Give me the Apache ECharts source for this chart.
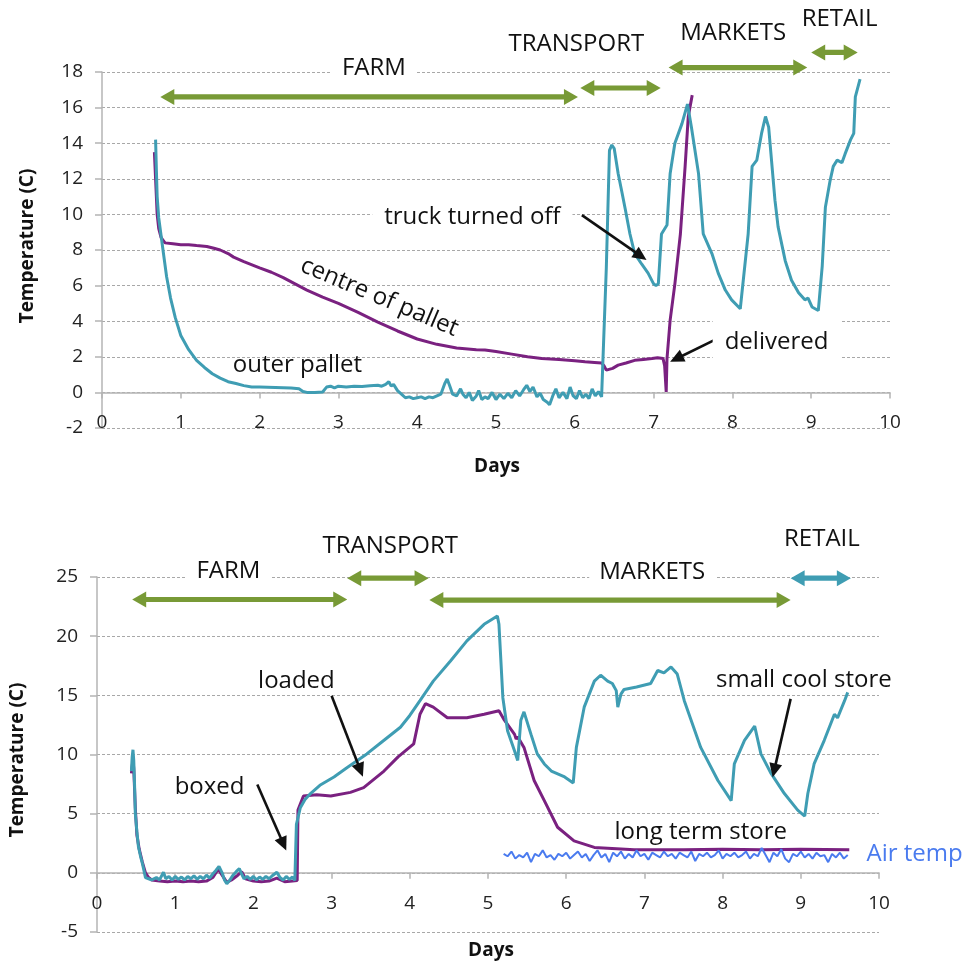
<!DOCTYPE html>
<html>
<head>
<meta charset="utf-8">
<script src="https://cdn.jsdelivr.net/npm/echarts@6/dist/echarts.min.js"></script>
<style>
  html, body { margin: 0; padding: 0; background: #ffffff; }
  #chart { width: 968px; height: 964px; }
</style>
</head>
<body>
<div id="chart"></div>
<script>
// ---- Upper panel: pallet temperatures [day, °C] ----
const outerPallet = [
  [0.68,14.2],[0.69,12.5],[0.70,11.0],[0.72,9.8],[0.75,8.8],[0.78,7.8],[0.82,6.5],[0.87,5.3],[0.93,4.2],
  [1.0,3.2],[1.1,2.4],[1.2,1.8],[1.3,1.4],[1.4,1.05],[1.5,0.8],[1.6,0.6],[1.7,0.5],[1.8,0.38],[1.9,0.3],
  [2.0,0.3],[2.2,0.28],[2.4,0.25],[2.5,0.2],[2.55,0.05],[2.6,0.0],[2.7,0.0],[2.8,0.02],[2.85,0.3],[2.9,0.35],
  [2.95,0.25],[3.0,0.35],[3.1,0.3],[3.2,0.35],[3.3,0.33],[3.4,0.38],[3.5,0.4],[3.55,0.35],[3.6,0.45],[3.64,0.6],
  [3.67,0.35],[3.7,0.45],[3.75,0.1],[3.8,-0.1],[3.85,-0.3],[3.9,-0.25],[3.95,-0.35],[4.0,-0.3],[4.05,-0.25],
  [4.1,-0.35],[4.15,-0.25],[4.2,-0.3],[4.25,-0.2],[4.3,-0.1],[4.35,0.5],[4.38,0.75],[4.41,0.4],[4.45,-0.1],
  [4.5,-0.2],[4.55,0.2],[4.58,-0.1],[4.62,-0.3],[4.66,0.0],[4.7,-0.45],[4.75,-0.2],[4.78,0.1],[4.82,-0.4],
  [4.86,-0.25],[4.9,-0.35],[4.95,0.0],[5.0,-0.4],[5.05,-0.1],[5.1,-0.35],[5.15,-0.05],[5.2,-0.3],[5.25,0.1],
  [5.3,-0.2],[5.35,0.15],[5.39,0.4],[5.43,0.05],[5.47,0.3],[5.52,-0.25],[5.56,-0.05],[5.6,-0.4],[5.65,-0.55],
  [5.68,-0.7],[5.72,-0.2],[5.76,0.2],[5.8,-0.3],[5.85,0.0],[5.9,-0.35],[5.94,0.3],[5.98,-0.2],[6.02,-0.35],
  [6.06,0.1],[6.1,-0.3],[6.14,-0.1],[6.18,-0.35],[6.22,0.2],[6.26,-0.2],[6.3,0.05],[6.34,-0.25],[6.36,-0.2],
  [6.40,7.0],[6.44,13.6],[6.47,13.9],[6.50,13.7],[6.55,12.3],[6.60,11.2],[6.64,10.3],[6.70,8.9],[6.76,7.8],
  [6.85,7.2],[6.93,6.7],[7.0,6.1],[7.03,6.0],[7.06,6.1],[7.10,8.9],[7.17,9.4],[7.21,12.3],[7.27,14.0],
  [7.36,15.1],[7.43,16.2],[7.48,14.9],[7.57,12.3],[7.63,8.9],[7.74,7.8],[7.82,6.7],[7.91,5.75],[7.99,5.2],
  [8.10,4.7],[8.12,4.8],[8.20,8.9],[8.25,12.7],[8.31,13.05],[8.37,14.55],[8.42,15.5],[8.46,14.9],[8.54,10.8],
  [8.58,9.3],[8.67,7.4],[8.75,6.3],[8.84,5.6],[8.92,5.2],[8.96,5.3],[9.01,4.8],[9.09,4.6],[9.14,7.1],
  [9.18,10.4],[9.24,11.9],[9.28,12.7],[9.33,13.05],[9.39,12.9],[9.43,13.4],[9.50,14.2],[9.54,14.55],
  [9.56,16.6],[9.62,17.6]
];
const centrePallet = [
  [0.665,13.5],[0.68,12.0],[0.70,10.0],[0.72,9.2],[0.75,8.7],[0.80,8.4],[0.9,8.35],[1.0,8.3],[1.1,8.3],
  [1.2,8.25],[1.33,8.2],[1.42,8.1],[1.5,8.0],[1.6,7.8],[1.67,7.6],[1.8,7.35],[2.0,7.0],[2.15,6.75],[2.3,6.45],
  [2.45,6.1],[2.6,5.75],[2.8,5.35],[3.0,5.0],[3.25,4.5],[3.5,3.95],[3.75,3.45],[4.0,3.0],[4.25,2.7],[4.5,2.5],
  [4.75,2.4],[4.86,2.38],[5.0,2.3],[5.2,2.15],[5.4,2.0],[5.58,1.9],[5.8,1.85],[6.0,1.78],[6.13,1.72],
  [6.25,1.68],[6.34,1.65],[6.37,1.5],[6.40,1.25],[6.48,1.35],[6.55,1.53],[6.65,1.65],[6.76,1.8],[6.87,1.85],
  [6.98,1.9],[7.05,1.95],[7.12,1.9],[7.14,1.5],[7.16,0.03],[7.17,1.9],[7.21,4.06],[7.27,6.1],[7.34,8.9],
  [7.40,12.7],[7.44,15.5],[7.49,16.7]
];

// ---- Lower panel: cool store vs long term store [day, °C] ----
const smallCoolStore = [
  [0.44,8.6],[0.45,9.8],[0.46,10.4],[0.47,9.5],[0.48,7.5],[0.49,5.0],[0.51,3.5],[0.53,2.2],[0.56,1.3],
  [0.58,0.8],[0.60,0.2],[0.62,-0.4],[0.66,-0.5],[0.70,-0.6],[0.72,-0.65],[0.76,-0.4],[0.80,-0.6],[0.85,0.05],
  [0.88,-0.5],[0.92,-0.3],[0.96,-0.6],[1.0,-0.3],[1.04,-0.55],[1.08,-0.35],[1.12,-0.6],[1.16,-0.3],[1.2,-0.5],
  [1.24,-0.25],[1.28,-0.55],[1.32,-0.3],[1.36,-0.5],[1.40,-0.2],[1.44,-0.45],[1.48,-0.1],[1.52,0.2],[1.56,0.55],
  [1.60,0.0],[1.63,-0.6],[1.66,-0.93],[1.70,-0.6],[1.74,-0.2],[1.78,0.1],[1.82,0.35],[1.85,-0.1],[1.88,-0.5],
  [1.92,-0.3],[1.96,-0.55],[2.0,-0.3],[2.04,-0.6],[2.08,-0.35],[2.12,-0.55],[2.16,-0.3],[2.2,-0.5],[2.25,-0.2],
  [2.30,0.05],[2.34,-0.4],[2.38,-0.6],[2.42,-0.3],[2.46,-0.55],[2.5,-0.35],[2.53,-0.65],[2.55,4.1],[2.60,5.5],
  [2.66,6.2],[2.73,6.7],[2.85,7.4],[3.03,8.1],[3.2,8.9],[3.45,10.05],[3.65,11.1],[3.88,12.3],[4.0,13.3],
  [4.13,14.55],[4.3,16.2],[4.52,17.9],[4.73,19.6],[4.95,21.0],[5.12,21.7],[5.14,21.0],[5.19,14.8],[5.25,12.0],
  [5.34,10.3],[5.38,9.5],[5.42,12.9],[5.46,13.6],[5.55,11.7],[5.63,10.05],[5.72,9.2],[5.81,8.6],[5.98,8.1],
  [6.09,7.6],[6.13,10.6],[6.23,14.0],[6.36,16.2],[6.44,16.7],[6.53,16.2],[6.59,16.0],[6.64,15.4],[6.66,14.0],
  [6.70,15.1],[6.74,15.5],[6.9,15.7],[7.08,16.0],[7.17,17.1],[7.25,16.9],[7.34,17.4],[7.42,16.8],[7.51,14.55],
  [7.72,10.6],[7.94,7.8],[8.11,6.1],[8.15,9.2],[8.28,11.2],[8.41,12.4],[8.49,10.05],[8.62,8.4],[8.79,6.7],
  [8.96,5.3],[9.05,4.8],[9.09,6.7],[9.17,9.2],[9.30,11.2],[9.43,13.4],[9.47,13.1],[9.56,14.55],[9.60,15.25]
];
const longTermStore = [
  [0.44,8.4],[0.46,9.6],[0.47,8.8],[0.49,5.5],[0.51,3.2],[0.54,2.0],[0.58,0.9],[0.62,0.0],[0.66,-0.4],
  [0.70,-0.6],[0.8,-0.7],[0.9,-0.75],[1.0,-0.7],[1.1,-0.75],[1.2,-0.7],[1.3,-0.75],[1.4,-0.7],[1.48,-0.4],
  [1.55,0.3],[1.6,-0.2],[1.66,-0.8],[1.72,-0.6],[1.8,-0.2],[1.85,0.1],[1.9,-0.5],[2.0,-0.7],[2.1,-0.75],
  [2.2,-0.7],[2.3,-0.45],[2.4,-0.75],[2.5,-0.7],[2.56,-0.65],[2.57,5.3],[2.64,6.5],[2.81,6.6],[2.99,6.5],
  [3.24,6.8],[3.41,7.2],[3.67,8.6],[3.85,9.8],[4.05,10.9],[4.13,13.4],[4.2,14.3],[4.30,14.0],[4.48,13.1],
  [4.73,13.1],[4.95,13.4],[5.14,13.7],[5.21,12.9],[5.34,11.7],[5.36,11.3],[5.38,11.5],[5.46,10.6],[5.59,7.8],
  [5.72,6.1],[5.89,3.85],[6.10,2.7],[6.36,2.15],[6.87,1.95],[7.5,1.95],[8.0,2.0],[8.5,1.95],[9.0,2.0],[9.62,1.95]
];
const airTemp = [
  [5.20,1.6],[5.25,1.4],[5.30,1.8],[5.35,1.2],[5.40,1.5],[5.45,1.3],[5.50,1.7],[5.55,0.9],[5.60,1.6],
  [5.65,1.4],[5.70,1.9],[5.75,1.3],[5.80,1.5],[5.85,1.1],[5.90,1.6],[5.95,1.4],[6.00,1.7],[6.05,1.2],
  [6.10,1.5],[6.15,1.8],[6.20,1.3],[6.25,1.6],[6.30,1.0],[6.35,1.5],[6.40,1.9],[6.45,1.3],[6.50,1.6],
  [6.55,0.9],[6.60,1.7],[6.65,1.4],[6.70,1.8],[6.75,1.2],[6.80,1.6],[6.85,1.3],[6.90,1.9],[6.95,1.4],
  [7.00,1.6],[7.05,1.1],[7.10,1.7],[7.15,1.5],[7.20,1.3],[7.25,1.8],[7.30,1.4],[7.35,1.6],[7.40,1.2],
  [7.45,1.7],[7.50,1.5],[7.55,1.3],[7.60,1.8],[7.65,1.0],[7.70,1.6],[7.75,1.4],[7.80,1.7],[7.85,1.3],
  [7.90,1.5],[7.95,1.9],[8.00,1.2],[8.05,1.6],[8.10,1.4],[8.15,1.7],[8.20,1.3],[8.25,1.5],[8.30,1.8],
  [8.35,1.2],[8.40,1.6],[8.45,1.4],[8.50,2.1],[8.55,1.5],[8.60,0.9],[8.65,1.7],[8.70,1.4],[8.75,2.0],
  [8.80,1.2],[8.85,0.9],[8.90,1.6],[8.95,1.4],[9.00,1.8],[9.05,1.3],[9.10,1.6],[9.15,1.2],[9.20,1.7],
  [9.25,1.4],[9.30,1.5],[9.35,0.9],[9.40,1.6],[9.45,1.3],[9.50,1.7],[9.55,1.2],[9.60,1.5]
];

// ---- Axis ranges ----
const dayAxis = { min: 0, max: 10, step: 1 };
const topTempAxis = { min: -2, max: 18, step: 2 };
const bottomTempAxis = { min: -5, max: 25, step: 5 };

// ---- Supply-chain stages (double arrows), in day / °C units ----
const topStages = [
  { name: 'FARM',      from: 0.74, to: 6.04, at: 16.6,  textX: 3.45, textY: 18.2, tone: 'green', boxed: true },
  { name: 'TRANSPORT', from: 6.07, to: 7.09, at: 17.1,  textX: 6.02, textY: 19.55, tone: 'green' },
  { name: 'MARKETS',   from: 7.19, to: 8.95, at: 18.25, textX: 8.01, textY: 20.2, tone: 'green' },
  { name: 'RETAIL',    from: 9.00, to: 9.59, at: 19.1,  textX: 9.36, textY: 20.95, tone: 'green' }
];
const bottomStages = [
  { name: 'FARM',      from: 0.45, to: 3.20, at: 23.1,  textX: 1.68, textY: 25.5, tone: 'green', boxed: true },
  { name: 'TRANSPORT', from: 3.20, to: 4.24, at: 24.9,  textX: 3.75, textY: 27.6, tone: 'green' },
  { name: 'MARKETS',   from: 4.25, to: 8.87, at: 23.05, textX: 7.10, textY: 25.4, tone: 'green', boxed: true },
  { name: 'RETAIL',    from: 8.87, to: 9.64, at: 24.9,  textX: 9.27, textY: 28.2, tone: 'teal' }
];

// ---- Callout notes ----
const topNotes = [
  { text: 'truck turned off', x: 4.70, y: 9.86, boxed: true, arrow: [[6.09, 9.96], [6.91, 7.44]] },
  { text: 'delivered', x: 8.56, y: 2.84, boxed: true, arrow: [[7.77, 2.94], [7.21, 1.72]] },
  { text: 'outer pallet', x: 2.48, y: 1.53 },
  { text: 'centre of pallet', x: 3.52, y: 5.35, tilt: -0.40 }
];
const bottomNotes = [
  { text: 'loaded', x: 2.55, y: 16.24, arrow: [[3.00, 14.97], [3.40, 8.13]] },
  { text: 'boxed', x: 1.44, y: 7.23, arrow: [[2.05, 7.46], [2.42, 1.88]] },
  { text: 'small cool store', x: 9.04, y: 16.3, arrow: [[8.87, 14.7], [8.64, 8.07]] },
  { text: 'long term store', x: 7.72, y: 3.43 },
  { text: 'Air temp', x: 9.84, y: 1.55, align: 'left', tone: 'blue' }
];

const TEAL = '#3f9db3';
const PURPLE = '#7a2180';
const BLUE = '#4a7bef';
const GREEN = '#789a36';
const TONES = { green: GREEN, teal: TEAL, blue: BLUE };
const FONT = '"Open Sans", "Liberation Sans", sans-serif';
const AXIS_GREY = '#b4b4b4';

const chart = echarts.init(document.getElementById('chart'), null, { renderer: 'canvas' });

// day labels sit just above the lowest gridline of each panel
function xAxisCfg(gridIndex, labelMargin) {
  return {
    type: 'value', gridIndex,
    min: dayAxis.min, max: dayAxis.max, interval: dayAxis.step,
    axisLine: { show: true, onZero: true, lineStyle: { color: AXIS_GREY, width: 1.5 } },
    axisTick: { show: true, length: 6, lineStyle: { color: AXIS_GREY, width: 1.5 } },
    axisLabel: { margin: labelMargin, fontSize: 19, color: '#222', fontFamily: FONT },
    splitLine: { show: false }
  };
}
function yAxisCfg(gridIndex, r) {
  return {
    type: 'value', gridIndex,
    min: r.min, max: r.max, interval: r.step,
    axisLine: { show: true, onZero: false, lineStyle: { color: AXIS_GREY, width: 1.5 } },
    axisTick: { show: true, length: 7, lineStyle: { color: AXIS_GREY, width: 1.5 } },
    axisLabel: { margin: 19, fontSize: 19, color: '#222', fontFamily: FONT },
    splitLine: { show: true, lineStyle: { color: '#a8a8a8', width: 1, type: [3, 2] } }
  };
}
function lineSeries(name, data, idx, color, width) {
  return {
    name, type: 'line', data, xAxisIndex: idx, yAxisIndex: idx,
    showSymbol: false, symbol: 'none', smooth: false,
    lineStyle: { color, width }, itemStyle: { color },
    z: 3, animation: false
  };
}

chart.setOption({
  animation: false,
  backgroundColor: '#ffffff',
  grid: [
    { left: 102, top: 72, width: 788, height: 356 },
    { left: 97, top: 577, width: 782, height: 355 }
  ],
  xAxis: [xAxisCfg(0, -15), xAxisCfg(1, -38)],
  yAxis: [yAxisCfg(0, topTempAxis), yAxisCfg(1, bottomTempAxis)],
  series: [
    lineSeries('centre of pallet', centrePallet, 0, PURPLE, 3),
    lineSeries('outer pallet', outerPallet, 0, TEAL, 3),
    lineSeries('long term store', longTermStore, 1, PURPLE, 3),
    lineSeries('small cool store', smallCoolStore, 1, TEAL, 3),
    lineSeries('Air temp', airTemp, 1, BLUE, 2)
  ]
});

// ---- Annotation layer, placed through each panel's own scales ----
function px(grid, x, y) { return chart.convertToPixel({ gridIndex: grid }, [x, y]); }

function textEl(x, y, str, opts) {
  opts = opts || {};
  return {
    type: 'text', x, y, rotation: opts.rotation || 0, z: 10, silent: true,
    style: {
      text: str,
      font: (opts.weight || 'normal') + ' ' + (opts.size || 24) + 'px ' + FONT,
      fill: opts.color || '#111',
      align: opts.align || 'center', textAlign: opts.align || 'center',
      verticalAlign: 'middle', textVerticalAlign: 'middle',
      backgroundColor: opts.bg || null,
      padding: opts.pad || 0
    }
  };
}

function doubleArrow(x1, x2, y, color) {
  const L = 14, H = 8, S = 2.6;
  return {
    type: 'polygon', z: 9, silent: true,
    shape: { points: [
      [x1, y], [x1 + L, y - H], [x1 + L, y - S], [x2 - L, y - S], [x2 - L, y - H],
      [x2, y], [x2 - L, y + H], [x2 - L, y + S], [x1 + L, y + S], [x1 + L, y + H]
    ] },
    style: { fill: color }
  };
}

function pointer(p1, p2) {
  const dx = p2[0] - p1[0], dy = p2[1] - p1[1];
  const len = Math.sqrt(dx * dx + dy * dy);
  const ux = dx / len, uy = dy / len;
  const L = 14, H = 6.5;
  const bx = p2[0] - ux * L, by = p2[1] - uy * L;
  return [
    { type: 'line', z: 9, silent: true,
      shape: { x1: p1[0], y1: p1[1], x2: bx + ux * 2, y2: by + uy * 2 },
      style: { stroke: '#111', lineWidth: 2.6 } },
    { type: 'polygon', z: 9, silent: true,
      shape: { points: [[p2[0], p2[1]], [bx - uy * H, by + ux * H], [bx + uy * H, by - ux * H]] },
      style: { fill: '#111' } }
  ];
}

const els = [];
[[0, topStages], [1, bottomStages]].forEach(([g, stages]) => {
  stages.forEach(s => {
    const a = px(g, s.from, s.at), b = px(g, s.to, s.at);
    els.push(doubleArrow(a[0], b[0], a[1], TONES[s.tone]));
    const t = px(g, s.textX, s.textY);
    els.push(textEl(t[0], t[1], s.name, { bg: s.boxed ? '#ffffff' : null, pad: [2, 10] }));
  });
});
[[0, topNotes], [1, bottomNotes]].forEach(([g, notes]) => {
  notes.forEach(n => {
    const t = px(g, n.x, n.y);
    els.push(textEl(t[0], t[1], n.text, {
      bg: n.boxed ? '#ffffff' : null, pad: n.boxed ? [12, 12] : 0,
      rotation: n.tilt || 0, align: n.align, color: n.tone ? TONES[n.tone] : '#111'
    }));
    if (n.arrow) {
      pointer(px(g, n.arrow[0][0], n.arrow[0][1]), px(g, n.arrow[1][0], n.arrow[1][1]))
        .forEach(e => els.push(e));
    }
  });
});

// axis titles
els.push(textEl(497, 467, 'Days', { weight: 'bold', size: 19 }));
els.push(textEl(491, 951, 'Days', { weight: 'bold', size: 19 }));
els.push(textEl(28, 246, 'Temperature (C)', { weight: 'bold', size: 19, rotation: Math.PI / 2 }));
els.push(textEl(18, 760, 'Temperature (C)', { weight: 'bold', size: 19, rotation: Math.PI / 2 }));

chart.setOption({ graphic: { elements: els } });
</script>
</body>
</html>
